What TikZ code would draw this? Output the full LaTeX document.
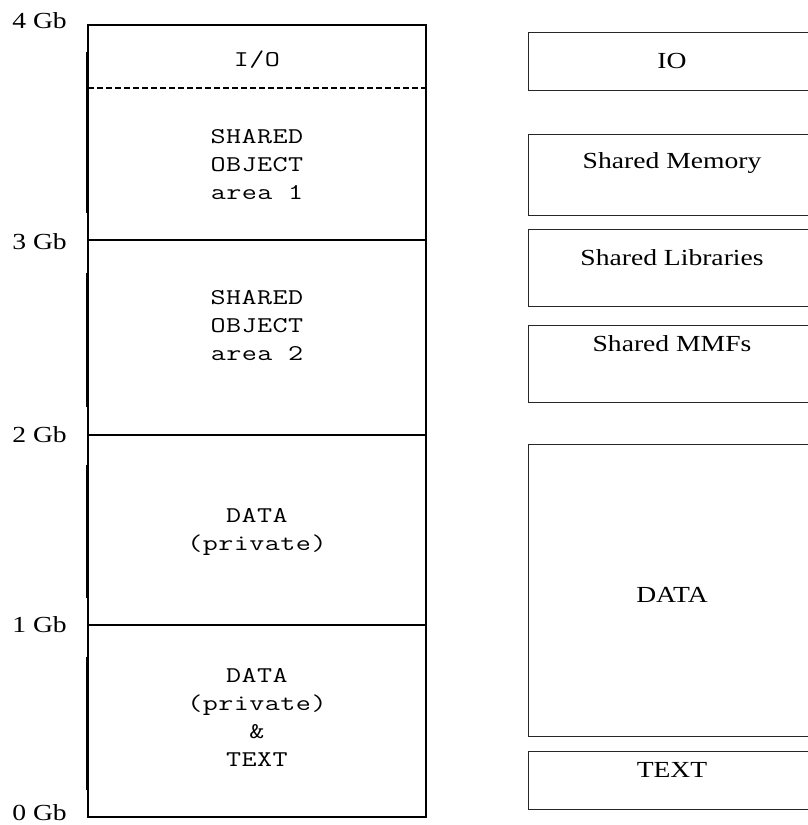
\documentclass[tikz,border=0pt]{standalone}
\usepackage{fontspec}
\newfontfamily\labfont{Liberation Serif}[FakeStretch=1.2]
\newfontfamily\monofont{Latin Modern Mono}[FakeStretch=1.3,LetterSpace=2]
\begin{document}
\begin{tikzpicture}[x=1pt,y=-1pt,
  lbox/.style={line width=1.4pt, draw=black},
  rbox/.style={line width=1pt, draw=black!85},
  gb/.style={font=\labfont\fontsize{23}{27}\selectfont, anchor=base east, inner sep=0pt},
  rt/.style={font=\labfont\fontsize{23}{27}\selectfont, anchor=base, inner sep=0pt},
  mt/.style={font=\monofont\fontsize{22.5}{28}\selectfont, align=center, inner sep=0pt},
]
\useasboundingbox (0,0) rectangle (807,825);
% left column
\draw[lbox] (88,25) rectangle (426,817);
\draw[lbox, dash pattern=on 6pt off 3pt] (88,88) -- (426,88);
\draw[lbox] (88,240) -- (426,240);
\draw[lbox] (88,435) -- (426,435);
\draw[lbox] (88,625) -- (426,625);
\draw[line width=1pt] (86.5,52) -- (86.5,213);
\draw[line width=1pt] (86.5,273) -- (86.5,407);
\draw[line width=1pt] (86.5,465) -- (86.5,598);
\draw[line width=1pt] (86.5,657) -- (86.5,790);
% Gb labels
\node[gb] (g4) at (67,28) {4 Gb};
\node[gb] (g3) at (67,249) {3 Gb};
\node[gb] (g2) at (67,442) {2 Gb};
\node[gb] (g1) at (67,632) {1 Gb};
\node[gb] (g0) at (67,820) {0 Gb};
% left texts
\node[mt, anchor=base] (io) at (257,66) {I/O};
\node[mt] (so1) at (257,164.5) {SHARED\\OBJECT\\area 1};
\node[mt] (so2) at (257,325.5) {SHARED\\OBJECT\\area 2};
\node[mt] (dp) at (257,532) {DATA\\(private)};
\node[mt] (dpt) at (257,717.5) {DATA\\(private)\\\&\\TEXT};
% right column
\draw[rbox] (528,32) rectangle (816,90);
\draw[rbox] (528,134) rectangle (816,215);
\draw[rbox] (528,229) rectangle (816,306);
\draw[rbox] (528,325) rectangle (816,402);
\draw[rbox] (528,444) rectangle (816,736);
\draw[rbox] (528,751) rectangle (816,809);
\node[rt] (rio) at (672,68) {IO};
\node[rt] (rsm) at (672,168) {Shared Memory};
\node[rt] (rsl) at (672,265) {Shared Libraries};
\node[rt] (rmm) at (672,351) {Shared MMFs};
\node[rt] (rdata) at (672,602) {DATA};
\node[rt] (rtext) at (672,777) {TEXT};
\end{tikzpicture}
\end{document}
